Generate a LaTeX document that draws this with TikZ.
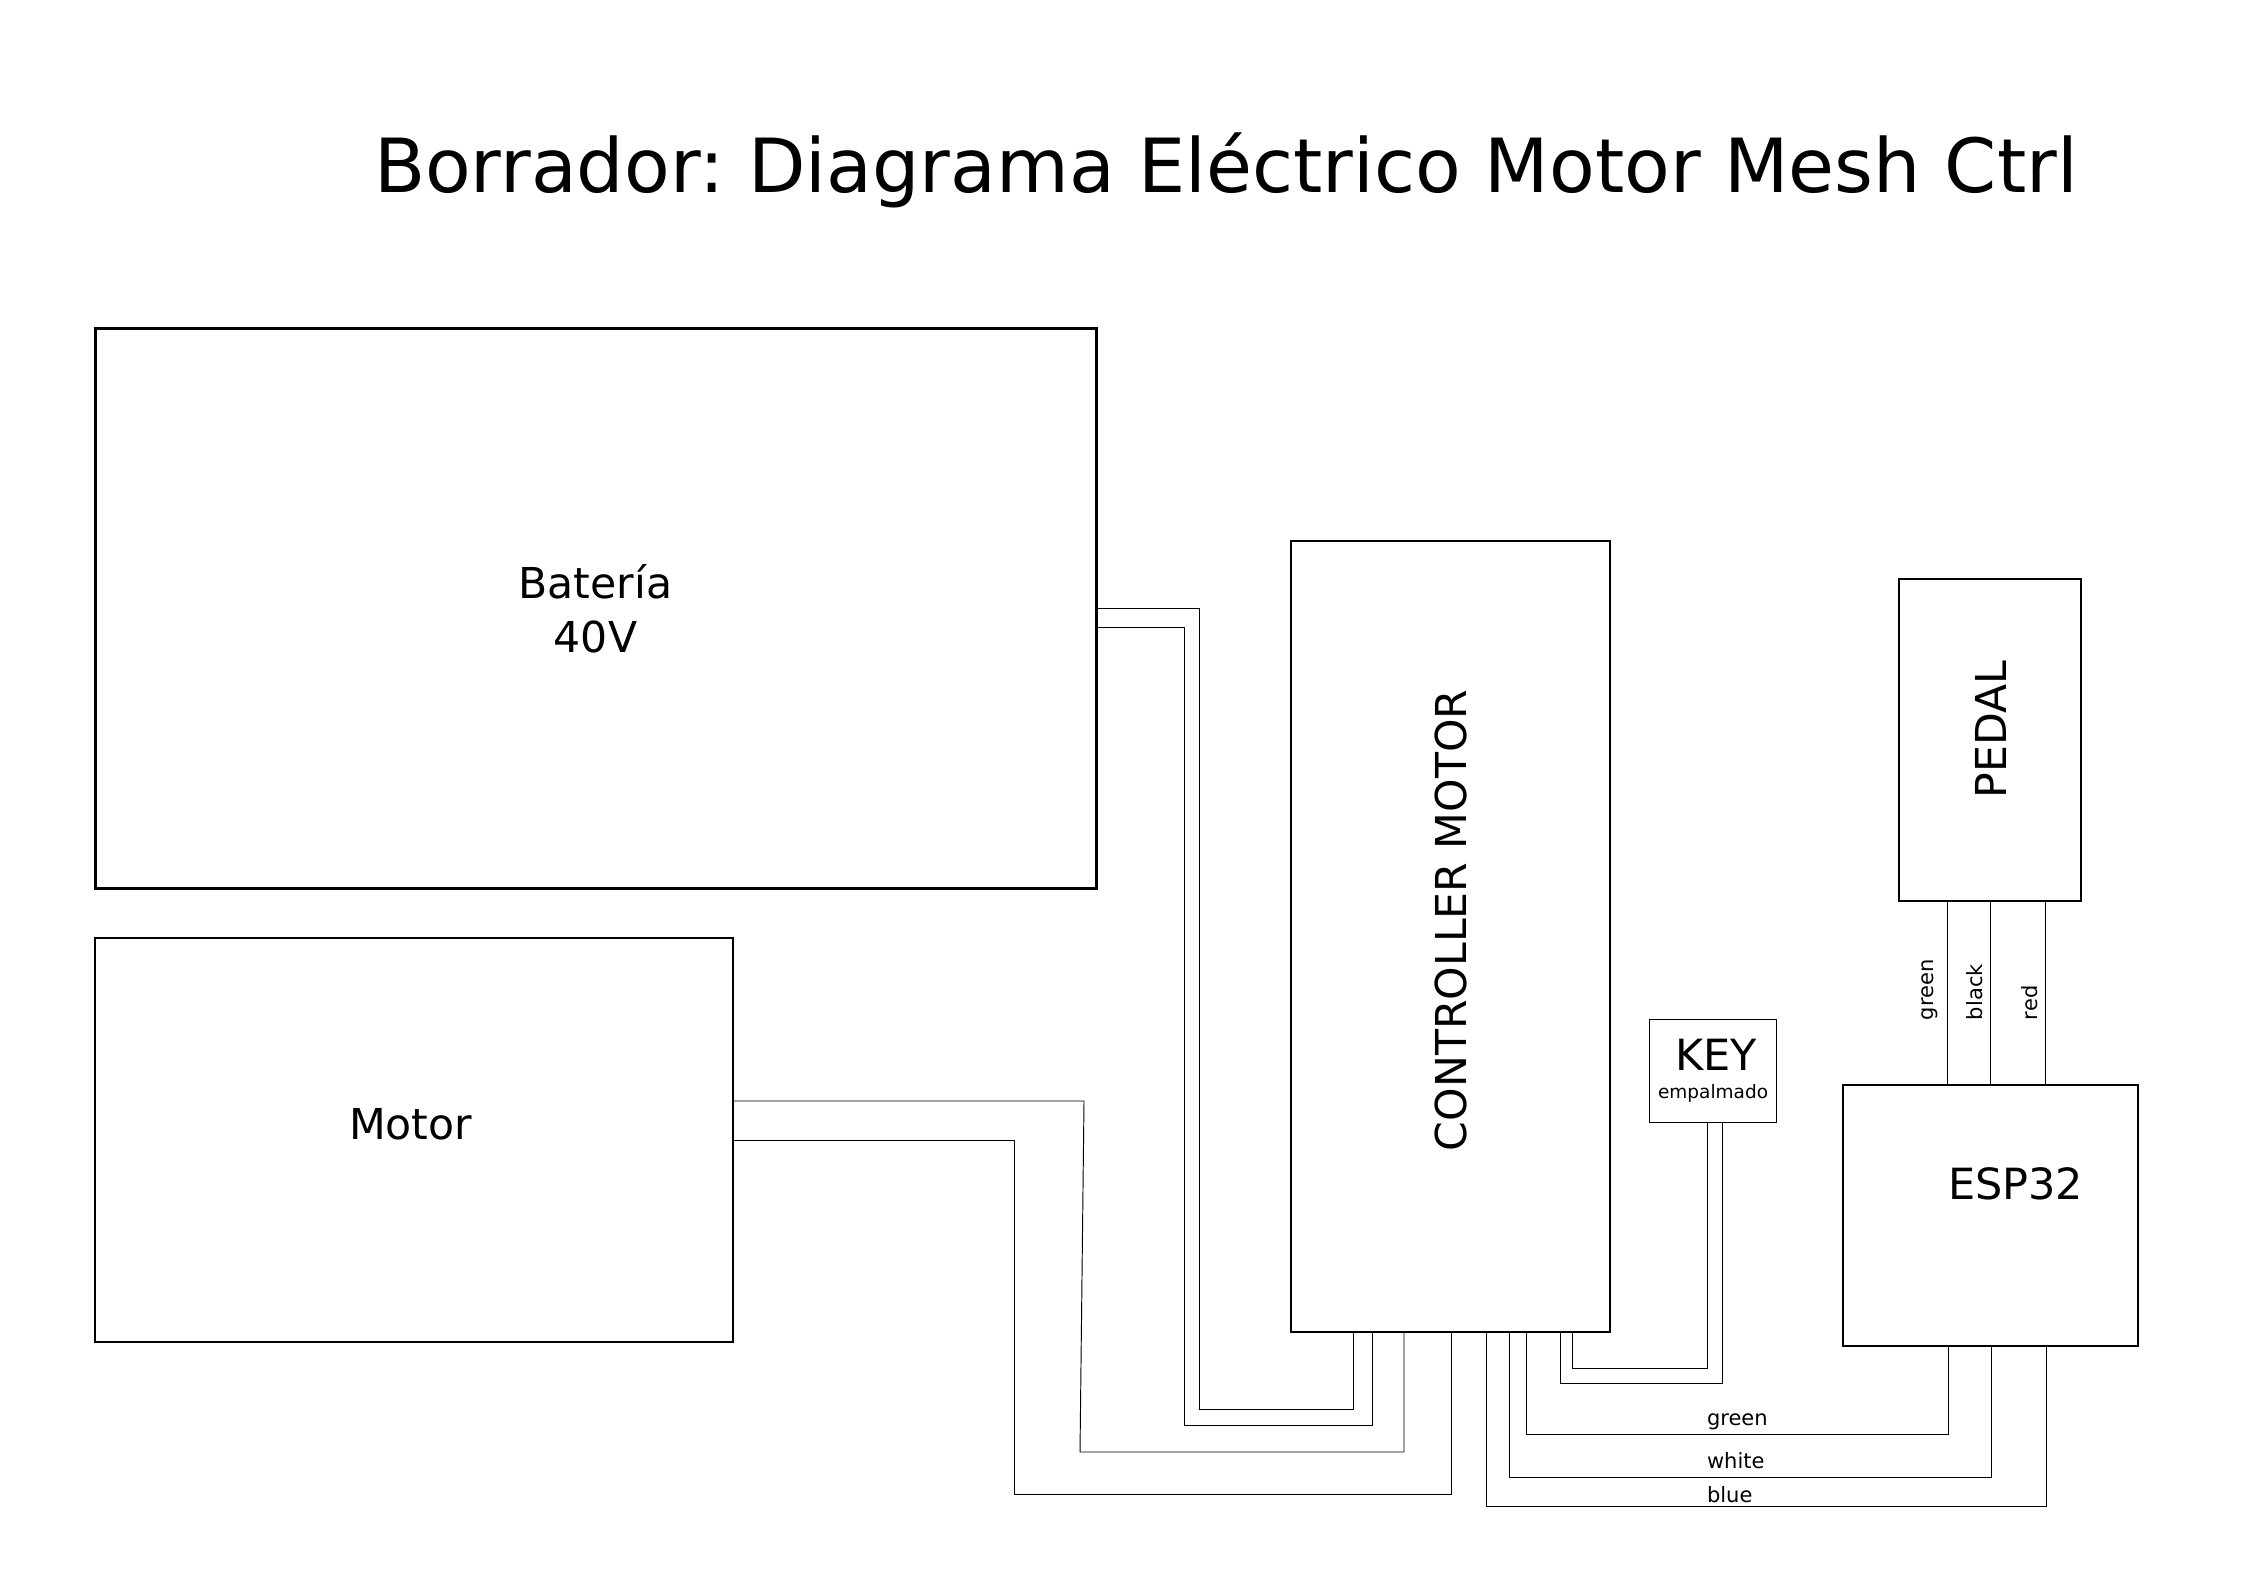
\documentclass[tikz,border=0pt]{standalone}
\usepackage{fontspec}
\setmainfont{DejaVu Sans}
\frenchspacing
\newcommand{\sz}[1]{\fontsize{#1}{#1}\selectfont}
\tikzset{
  thickbox/.style={draw=black,line width=3pt,anchor=north west,inner sep=0pt,outer sep=0pt},
  box/.style={draw=black,line width=2pt,anchor=north west,inner sep=0pt,outer sep=0pt},
  thinbox/.style={draw=black,line width=1.2pt,anchor=north west,inner sep=0pt,outer sep=0pt},
  wire/.style={draw=black,line width=0.95pt,line join=miter},
  txt/.style={anchor=base west,inner sep=0pt,outer sep=0pt,text=black},
  large/.style={txt,font=\sz{42.6}},
  small/.style={txt,font=\sz{21}},
  vsmall/.style={small,rotate=90},
  vlarge/.style={large,rotate=90}
}
\begin{document}
\begin{tikzpicture}[x=1pt,y=-1pt]
\useasboundingbox (0,0) rectangle (2245,1587);
% boxes
\node[thickbox,minimum width=1001pt,minimum height=559.5pt] (batt) at (95,328.5) {};
\node[box,minimum width=638pt,minimum height=404pt] (motor) at (95,938) {};
\node[box,minimum width=318.5pt,minimum height=791pt] (ctrl) at (1291,541) {};
\node[box,minimum width=182pt,minimum height=322pt] (pedal) at (1899,579) {};
\node[thinbox,minimum width=127pt,minimum height=103pt] (key) at (1649.5,1019.5) {};
\node[box,minimum width=295pt,minimum height=261pt] (esp) at (1843,1085) {};
% texts
\node[txt,font=\sz{74.7}] (title) at (374,192) {Borrador: Diagrama Eléctrico Motor Mesh Ctrl};
\node[large,anchor=base] (battA) at (595.5,598) {Batería};
\node[large,anchor=base] (battB) at (595.5,652) {40V};
\node[large] (motorT) at (349,1139) {Motor};
\node[vlarge] (ctrlT) at (1466,1151) {CONTROLLER MOTOR};
\node[vlarge] (pedalT) at (2006,798) {PEDAL};
\node[large,font=\sz{43}] (keyT) at (1675,1070) {KEY};
\node[txt,font=\sz{18.5}] (keyS) at (1658,1098) {empalmado};
\node[large,font=\sz{43}] (espT) at (1948,1199) {ESP32};
\node[small] (lg) at (1707,1425) {green};
\node[small] (lw) at (1707,1468) {white};
\node[small] (lb) at (1707,1502) {blue};
\node[vsmall] (vg) at (1933.5,1020) {green};
\node[vsmall] (vb) at (1982,1020) {black};
\node[vsmall] (vr) at (2037.5,1020) {red};
% battery to controller
\draw[wire] (batt.east |- 0,608) -- (1199,608) -- (1199,1409) -- (1353,1409) -- (ctrl.south -| 1353,0);
\draw[wire] (batt.east |- 0,627) -- (1184,627) -- (1184,1425) -- (1372,1425) -- (ctrl.south -| 1372,0);
% motor to controller
\draw[wire] (motor.east |- 0,1101) -- (1084,1101) -- (1080,1452) -- (1404,1452) -- (ctrl.south -| 1404,0);
\draw[wire] (motor.east |- 0,1140) -- (1014,1140) -- (1014,1494) -- (1451,1494) -- (ctrl.south -| 1451,0);
% key to controller
\draw[wire] (key.south -| 1707,0) -- (1707,1368) -- (1572,1368) -- (ctrl.south -| 1572,0);
\draw[wire] (key.south -| 1722,0) -- (1722,1383) -- (1560,1383) -- (ctrl.south -| 1560,0);
% esp to controller
\draw[wire] (ctrl.south -| 1526,0) -- (1526,1434) -- (1948,1434) -- (esp.south -| 1948,0);
\draw[wire] (ctrl.south -| 1509,0) -- (1509,1477) -- (1991,1477) -- (esp.south -| 1991,0);
\draw[wire] (ctrl.south -| 1486,0) -- (1486,1506) -- (2046,1506) -- (esp.south -| 2046,0);
% pedal to esp
\draw[wire] (pedal.south -| 1947,0) -- (esp.north -| 1947,0);
\draw[wire] (pedal.south -| 1990,0) -- (esp.north -| 1990,0);
\draw[wire] (pedal.south -| 2045,0) -- (esp.north -| 2045,0);
\end{tikzpicture}
\end{document}
